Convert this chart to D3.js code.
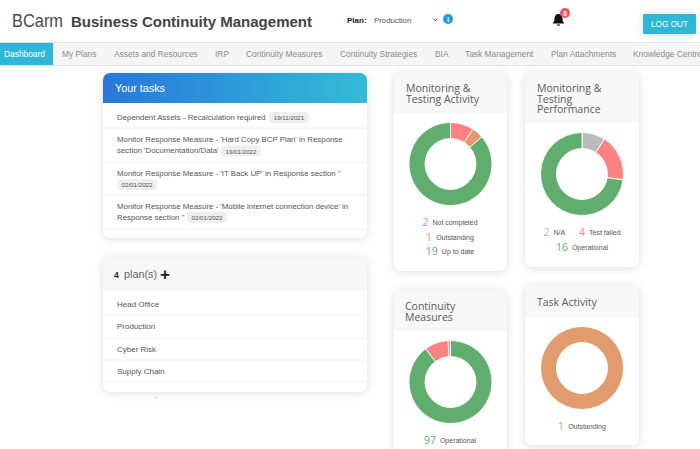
<!DOCTYPE html>
<html>
<head>
<meta charset="utf-8">
<style>
  html, body { margin: 0; padding: 0; background: #fff; overflow: hidden; }
  svg { display: block; }
  text { font-family: "Liberation Sans", Arial, sans-serif; dominant-baseline: central; }
  .panel { filter: drop-shadow(0 1px 4px rgba(0,0,0,0.14)); }
  .title { font-family: "Open Sans", sans-serif; font-weight: 400; fill: #5a5a5a; }
</style>
</head>
<body>
<svg id="page" width="700" height="449"></svg>
<script src="https://cdn.jsdelivr.net/npm/d3@7"></script>
<script>
'use strict';

// chart data
var activityLabels = ['Not completed', 'Outstanding', 'Up to date'];
var activityValues = [2, 1, 19];
var performanceLabels = ['N/A', 'Test failed', 'Operational'];
var performanceValues = [2, 4, 16];
var measuresLabels = ['Operational', 'Test failed', 'Not completed'];
var measuresValues = [97, 10, 1];
var taskLabels = ['Outstanding'];
var taskValues = [1];

// page text
var navItems = ['Dashboard', 'My Plans', 'Assets and Resources', 'IRP', 'Continuity Measures',
    'Continuity Strategies', 'BIA', 'Task Management', 'Plan Attachments', 'Knowledge Centre'];
var planNames = ['Head Office', 'Production', 'Cyber Risk', 'Supply Chain'];

var color = d3.scaleOrdinal()
    .domain(['Not completed', 'Outstanding', 'Up to date', 'N/A', 'Test failed', 'Operational'])
    .range(['#ff8184', '#e19b6c', '#61ad6e', '#bbbbbb', '#ff8184', '#61ad6e']);

var svg = d3.select('#page');

// small helper, most of the page is just text at a spot
var label = function(parent, x, y, str, size, fill, extra) {
    var t = parent.append('text').attr('x', x).attr('y', y).text(str)
        .attr('font-size', size).attr('fill', fill);
    if (extra) { Object.keys(extra).forEach(function(k) { t.attr(k, extra[k]); }); }
    return t;
};

// rounded panel with a header strip
var panel = function(x, y, w, h, headH, headFill) {
    var g = svg.append('g');
    g.append('rect').attr('class', 'panel').attr('x', x).attr('y', y).attr('width', w).attr('height', h)
        .attr('rx', 7).attr('fill', '#fff');
    var p = d3.path(), r = 7;
    p.moveTo(x, y + headH);
    p.lineTo(x, y + r);
    p.arcTo(x, y, x + r, y, r);
    p.lineTo(x + w - r, y);
    p.arcTo(x + w, y, x + w, y + r, r);
    p.lineTo(x + w, y + headH);
    p.closePath();
    g.append('path').attr('d', p.toString()).attr('fill', headFill);
    return g;
};

//
// top bar
//
label(svg, 12, 20, 'BCarm', 18.5, '#4a4a4a', {'font-family': '"Open Sans", sans-serif', 'font-weight': 300, 'textLength': 51, 'lengthAdjust': 'spacingAndGlyphs'});
label(svg, 71, 21, 'Business Continuity Management', 15, '#444', {'font-family': '"DejaVu Sans", sans-serif', 'font-weight': 700, 'textLength': 241, 'lengthAdjust': 'spacingAndGlyphs'});
label(svg, 347, 20, 'Plan:', 8, '#222', {'font-weight': 700});
label(svg, 374, 20, 'Production', 7.8, '#555');
svg.append('path').attr('d', 'M433 18.5l2.2 2.2 2.2-2.2').attr('fill', 'none').attr('stroke', '#555').attr('stroke-width', 1);
svg.append('circle').attr('cx', 448).attr('cy', 19).attr('r', 5).attr('fill', '#1e9be8');
label(svg, 448, 19, 'i', 8, '#fff', {'text-anchor': 'middle', 'font-weight': 700});

// bell + counter
svg.append('path')
    .attr('d', 'M558.5 14c-3 0-4 2.400-4 5 0 2.500-1.400 3.800-1.900 4.500h11.800c-.5-.7-1.900-2-1.900-4.500 0-2.600-1-5-4-5zM556.600 24.400a2 1.800 0 0 0 3.800 0z')
    .attr('fill', '#111');
svg.append('circle').attr('cx', 565).attr('cy', 13).attr('r', 5).attr('fill', '#f4555a');
label(svg, 565, 13, '8', 6.5, '#fff', {'text-anchor': 'middle', 'font-weight': 700});

svg.append('rect').attr('class', 'panel').attr('x', 643).attr('y', 14).attr('width', 53).attr('height', 20)
    .attr('rx', 1).attr('fill', '#2fb7d7');
label(svg, 669.5, 24.500, 'LOG OUT', 8.2, '#fff', {'text-anchor': 'middle'});

//
// nav strip
//
svg.append('rect').attr('x', -1).attr('y', 42.5).attr('width', 702).attr('height', 23)
    .attr('fill', '#f5f5f5').attr('stroke', '#e4e4e4').attr('stroke-width', 1);
svg.append('rect').attr('x', 0).attr('y', 43).attr('width', 53).attr('height', 22).attr('fill', '#2fb7d7');

var navLeft = [4, 62, 114, 215, 246, 340, 435, 465, 551, 633];
svg.append('g').selectAll('text').data(navItems).enter().append('text')
    .attr('x', function(d, i) { return navLeft[i]; })
    .attr('y', 54)
    .attr('font-size', 8.4)
    .attr('fill', function(d, i) { return i === 0 ? '#fff' : '#8a8a8a'; })
    .text(function(d) { return d; });

//
// Your tasks
//
var defs = svg.append('defs');
var grad = defs.append('linearGradient').attr('id', 'taskHead');
grad.append('stop').attr('offset', '0%').attr('stop-color', '#2877dc');
grad.append('stop').attr('offset', '100%').attr('stop-color', '#33bcd6');

var tasks = panel(103, 73, 264, 165, 30, 'url(#taskHead)');
label(tasks, 115, 88, 'Your tasks', 11, '#fff', {'font-family': '"Open Sans", sans-serif', 'font-weight': 300, 'textLength': 50, 'lengthAdjust': 'spacingAndGlyphs'});

[128, 162, 195, 229].forEach(function(y) {
    tasks.append('line').attr('x1', 103).attr('x2', 367).attr('y1', y).attr('y2', y).attr('stroke', '#f0f0f0');
});

var badge = function(x, y, w, str) {
    tasks.append('rect').attr('x', x).attr('y', y - 5.5).attr('width', w).attr('height', 11).attr('rx', 4).attr('fill', '#eeeeee');
    label(tasks, x + w / 2, y, str, 6.2, '#555', {'text-anchor': 'middle'});
};
var taskText = function(x, y, str) { label(tasks, x, y, str, 7.85, '#555'); };

taskText(117, 117, 'Dependent Assets - Recalculation required');
badge(269, 117.500, 40, '19/11/2021');
taskText(117, 139.500, "Monitor Response Measure - 'Hard Copy BCP Plan' in Response");
taskText(117, 150.500, "section 'Documentation/Data'");
badge(221, 151, 40, '19/01/2022');
taskText(117, 173, "Monitor Response Measure - 'IT Back UP' in Response section ''");
badge(117, 184.500, 40, '02/01/2022');
taskText(117, 206, "Monitor Response Measure - 'Mobile internet connection device' in");
taskText(117, 217, "Response section ''");
badge(187, 217.500, 40, '02/01/2022');

//
// plans
//
var plans = panel(103, 257, 264, 135, 33, '#f7f7f7');
label(plans, 114, 275, planNames.length, 8.5, '#222', {'font-family': '"DejaVu Sans", sans-serif', 'font-weight': 700});
label(plans, 124, 274, 'plan(s)', 11, '#666', {'font-family': '"Open Sans", sans-serif', 'font-weight': 300, 'textLength': 33, 'lengthAdjust': 'spacingAndGlyphs'});
label(plans, 165, 274, '+', 17, '#222', {'text-anchor': 'middle', 'font-weight': 700});

var planY = d3.scalePoint().domain(planNames).range([304, 371.5]);
plans.selectAll('text.plan').data(planNames).enter().append('text')
    .attr('class', 'plan').attr('x', 117)
    .attr('y', function(d) { return planY(d); })
    .attr('font-size', 8).attr('fill', '#555')
    .text(function(d) { return d; });
[315, 338, 360, 382].forEach(function(y) {
    plans.append('line').attr('x1', 103).attr('x2', 367).attr('y1', y).attr('y2', y).attr('stroke', '#f2f2f2');
});
svg.append('circle').attr('cx', 156).attr('cy', 397.500).attr('r', 0.6).attr('fill', '#999');

//
// donut cards
//
var pie = d3.pie().sort(null);
var arc = d3.arc().innerRadius(25.5).outerRadius(41.5);

var donut = function(cx, cy, labels, values) {
    var g = svg.append('g').attr('transform', 'translate(' + cx + ',' + cy + ')');
    g.selectAll('path').data(pie(values)).enter().append('path')
        .attr('d', arc)
        .attr('fill', function(d, i) { return color(labels[i]); })
        .attr('stroke', '#fff')
        .attr('stroke-width', 0.9);
};

// one centred legend row, entries are [value, label]
var legendRow = function(cx, y, entries) {
    var t = svg.append('text').attr('x', cx).attr('y', y).attr('text-anchor', 'middle');
    entries.forEach(function(e, i) {
        t.append('tspan').attr('dx', i ? 14 : 0)
            .attr('font-family', '"Open Sans", sans-serif').attr('font-size', 10.5)
            .attr('fill', color(e[1])).text(e[0]);
        t.append('tspan').attr('dx', 4).attr('font-size', 7).attr('fill', '#555').text(e[1]);
    });
};

var cardTitle = function(g, x, lines, ys) {
    lines.forEach(function(line, i) {
        g.append('text').attr('class', 'title').attr('x', x).attr('y', ys[i]).attr('font-size', 10.5).text(line);
    });
};

var card1 = panel(394, 72, 113, 199, 41, '#f7f7f7');
cardTitle(card1, 406, ['Monitoring &', 'Testing Activity'], [88, 98.5]);
donut(450.5, 164, activityLabels, activityValues);
legendRow(450, 222, [[activityValues[0], activityLabels[0]]]);
legendRow(450, 236.500, [[activityValues[1], activityLabels[1]]]);
legendRow(450, 251, [[activityValues[2], activityLabels[2]]]);

var card2 = panel(525, 72, 114, 195, 51, '#f7f7f7');
cardTitle(card2, 537, ['Monitoring &', 'Testing', 'Performance'], [88, 98.5, 108.5]);
donut(582, 174, performanceLabels, performanceValues);
legendRow(582, 232, [[performanceValues[0], performanceLabels[0]], [performanceValues[1], performanceLabels[1]]]);
legendRow(582, 247, [[performanceValues[2], performanceLabels[2]]]);

var card3 = panel(394, 290, 113, 175, 41, '#f7f7f7');
cardTitle(card3, 405, ['Continuity', 'Measures'], [306, 316.5]);
donut(450.5, 382, measuresLabels, measuresValues);
legendRow(450, 440, [[measuresValues[0], measuresLabels[0]]]);

var card4 = panel(525, 285, 114, 160, 32, '#f7f7f7');
cardTitle(card4, 537, ['Task Activity'], [302]);
donut(582, 368, taskLabels, taskValues);
legendRow(582, 425.500, [[taskValues[0], taskLabels[0]]]);
</script>
</body>
</html>
